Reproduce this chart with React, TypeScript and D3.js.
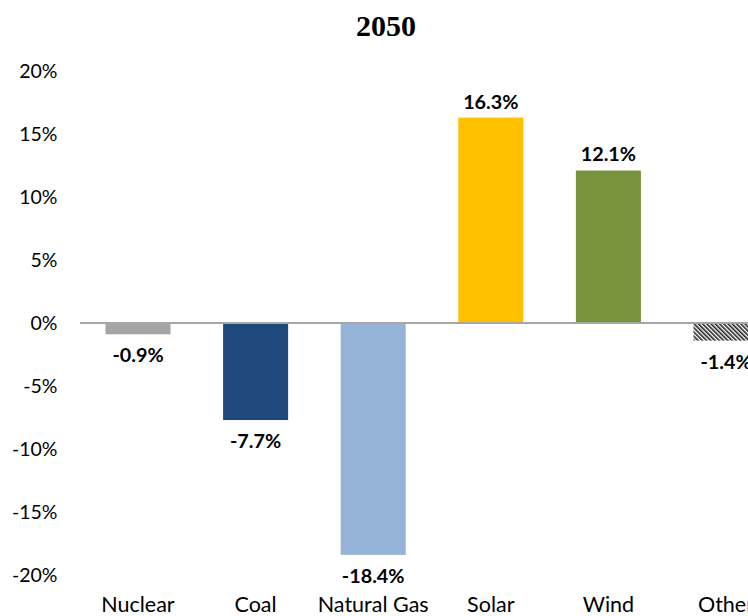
import React from "react";
import * as d3 from "d3";

const categories = ["Nuclear", "Coal", "Natural Gas", "Solar", "Wind", "Other"];
const values = [-0.9, -7.7, -18.4, 16.3, 12.1, -1.4];
const colors = ["#A5A5A5", "#1F497D", "#95B3D7", "#FFC000", "#77933C", "url(#hatch)"];
const yTicks = [20, 15, 10, 5, 0, -5, -10, -15, -20];
const title = "2050";

export default function App() {
  const W = 748, H = 616;
  const x = d3.scaleBand<string>().domain(categories).range([79.2, 79.2 + 6 * 117.6]).paddingInner(0.447).paddingOuter(0.2235);
  const y = d3.scaleLinear().domain([-20, 20]).range([575, 71]);
  const font = "Lato, 'Open Sans', sans-serif";
  return (
    <svg width={W} height={H} style={{ position: "absolute", left: 0, top: 0, background: "#fff" }}>
      <defs>
        <pattern id="hatch" width="3" height="3" patternUnits="userSpaceOnUse" patternTransform="rotate(-45)">
          <rect width="3" height="3" fill="#fff" />
          <rect width="1.6" height="3" fill="#222" />
        </pattern>
      </defs>
      <text x={386} y={36} textAnchor="middle" fontFamily="'Liberation Serif', 'Times New Roman', serif" fontWeight="bold" fontSize={30} fill="#000">{title}</text>
      {yTicks.map((t) => (
        <text key={t} x={57.5} y={y(t)} dy="0.35em" textAnchor="end" fontFamily={font} fontSize={19.5} fill="#000">{t}%</text>
      ))}
      {categories.map((c, i) => {
        const v = values[i];
        const x0 = x(c)!;
        const top = y(Math.max(0, v));
        const bot = y(Math.min(0, v));
        return (
          <g key={c}>
            <rect x={x0} y={top} width={x.bandwidth()} height={bot - top} fill={colors[i]} />
            <text x={x0 + x.bandwidth() / 2} y={v < 0 ? bot + 21 : top - 16} dy="0.35em" textAnchor="middle" fontFamily={font} fontWeight="bold" fontSize={19.8} fill="#000">{v.toFixed(1)}%</text>
            <text x={x0 + x.bandwidth() / 2} y={604} dy="0.35em" textAnchor="middle" fontFamily={font} fontSize={21.5} fill="#000">{c}</text>
          </g>
        );
      })}
      <line x1={80} x2={W} y1={y(0)} y2={y(0)} stroke="#A6A6A6" strokeWidth={2} />
    </svg>
  );
}
